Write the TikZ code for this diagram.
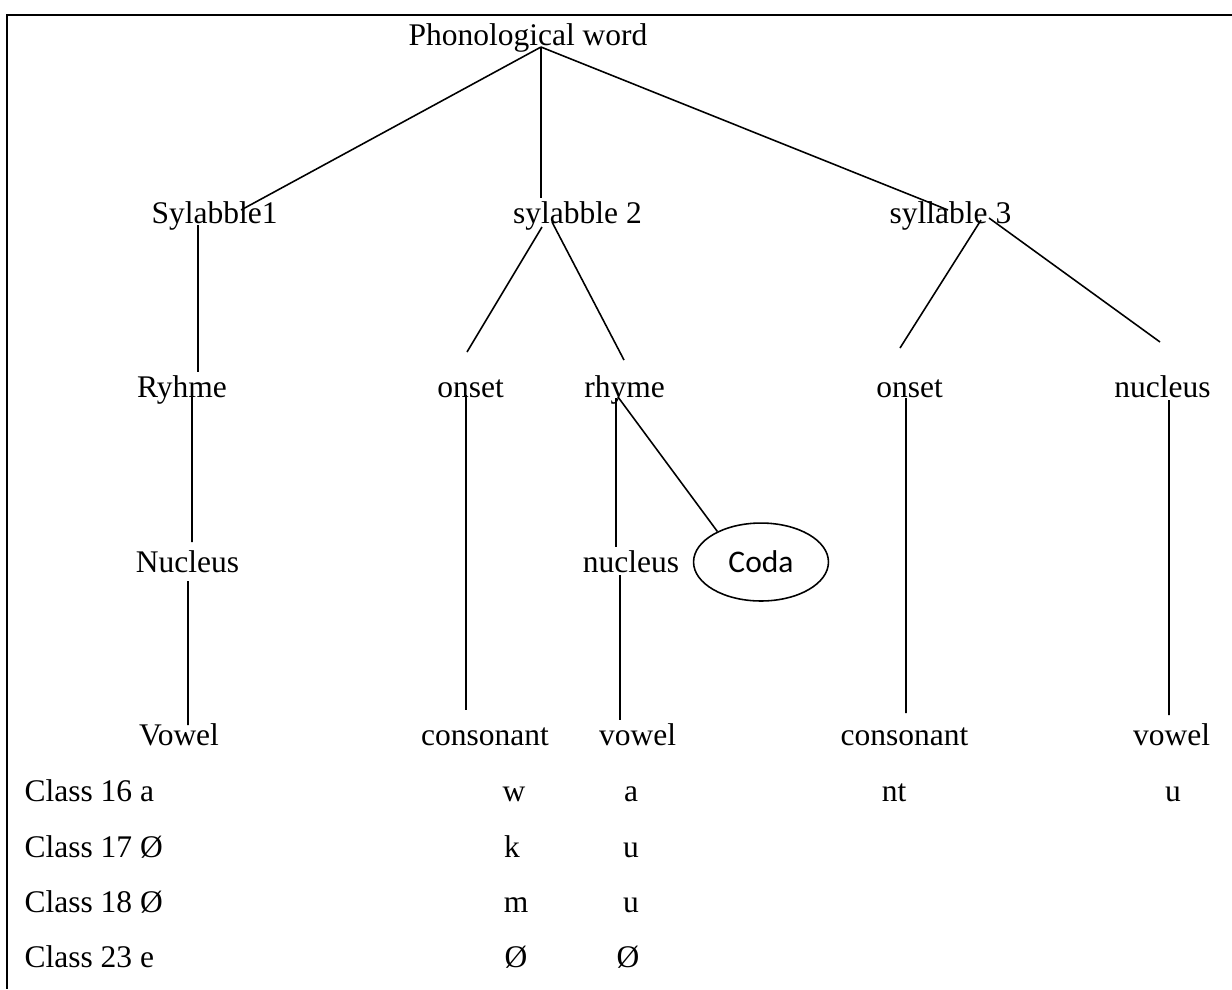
\documentclass[tikz,border=0pt]{standalone}
\usepackage{fontspec}
\setmainfont{Liberation Serif}
\newfontfamily\codafont{Carlito}
\usetikzlibrary{shapes.geometric}

\begin{document}
\begin{tikzpicture}[x=0.381pt, y=-0.381pt,
    every node/.style={inner sep=0pt, anchor=base, font=\fontsize{12pt}{14pt}\selectfont},
    branch/.style={line width=0.6pt}]
    \useasboundingbox (0,0) rectangle (1232,989);

    % Frame
    \draw[line width=0.8pt] (1232,15) -- (7,15) -- (7,989);

    % Word level
    \node (pw) at (528,45) {Phonological word};

    % Syllables
    \node (syl1) at (214.5,223) {Sylabble1};
    \node (syl2) at (577.5,223) {sylabble 2};
    \node (syl3) at (950.5,223) {syllable 3};

    % Onsets and rhymes
    \node (ry1) at (182,397) {Ryhme};
    \node (on2) at (470.5,397) {onset};
    \node (rh2) at (624.5,397) {rhyme};
    \node (on3) at (909.5,397) {onset};
    \node (nu3) at (1162.5,397) {nucleus};

    % Nuclei and coda
    \node (nu1) at (187.5,572) {Nucleus};
    \node (nu2) at (631,572) {nucleus};
    \node[draw, ellipse, anchor=center, line width=0.6pt, minimum width=51.4pt,
          minimum height=29.7pt, font=\fontsize{12pt}{14pt}\codafont] (coda) at (761,562) {Coda};

    % Segments
    \node (vw1) at (179,745) {Vowel};
    \node (cn2) at (485,745) {consonant};
    \node (vw2) at (637.5,745) {vowel};
    \node (cn3) at (904.5,745) {consonant};
    \node (vw3) at (1171.5,745) {vowel};

    % Noun classes
    \node[anchor=base west] (c16) at (24,801) {Class 16 a};
    \node[anchor=base west] (c17) at (24,857) {Class 17 Ø};
    \node[anchor=base west] (c18) at (24,912) {Class 18 Ø};
    \node[anchor=base west] (c23) at (24,967) {Class 23 e};

    \node (c16w) at (514,801) {w};
    \node (c16a) at (631,801) {a};
    \node (c16n) at (894,801) {nt};
    \node (c16u) at (1173,801) {u};
    \node (c17k) at (512,857) {k};
    \node (c17u) at (631,857) {u};
    \node (c18m) at (516,912) {m};
    \node (c18u) at (631,912) {u};
    \node (c23c) at (516,967) {Ø};
    \node (c23v) at (628,967) {Ø};

    % Branches
    \draw[branch] ([shift={(13,2)}]pw.base) -- ([shift={(26.5,-13)}]syl1.base);
    \draw[branch] ([shift={(13,2)}]pw.base) -- ([shift={(-36.5,-25)}]syl2.base);
    \draw[branch] ([shift={(13,2)}]pw.base) -- ([shift={(-2.5,-13)}]syl3.base);

    \draw[branch] ([shift={(-16.5,2)}]syl1.base) -- ([shift={(16,-25)}]ry1.base);
    \draw[branch] ([shift={(-35.5,4)}]syl2.base) -- ([shift={(-3.5,-45)}]on2.base);
    \draw[branch] ([shift={(-25.5,-1)}]syl2.base) -- ([shift={(-0.5,-37)}]rh2.base);
    \draw[branch] ([shift={(30.5,-3)}]syl3.base) -- ([shift={(-9.5,-49)}]on3.base);
    \draw[branch] ([shift={(38.5,-5)}]syl3.base) -- ([shift={(-2.5,-55)}]nu3.base);

    \draw[branch] ([shift={(10,-9)}]ry1.base) -- ([shift={(4.5,-30)}]nu1.base);
    \draw[branch] ([shift={(0.5,9)}]nu1.base) -- ([shift={(9,-20)}]vw1.base);
    \draw[branch] ([shift={(-4.5,-2)}]on2.base) -- ([shift={(-19,-35)}]cn2.base);
    \draw[branch] ([shift={(-8.5,1)}]rh2.base) -- ([shift={(-15,-25)}]nu2.base);
    \draw[branch] ([shift={(-6.5,0)}]rh2.base) -- (coda.145);
    \draw[branch] ([shift={(-11,3)}]nu2.base) -- ([shift={(-17.5,-25)}]vw2.base);
    \draw[branch] ([shift={(-3.5,1)}]on3.base) -- ([shift={(1.5,-32)}]cn3.base);
    \draw[branch] ([shift={(6.5,3)}]nu3.base) -- ([shift={(-2.5,-30)}]vw3.base);
\end{tikzpicture}
\end{document}
